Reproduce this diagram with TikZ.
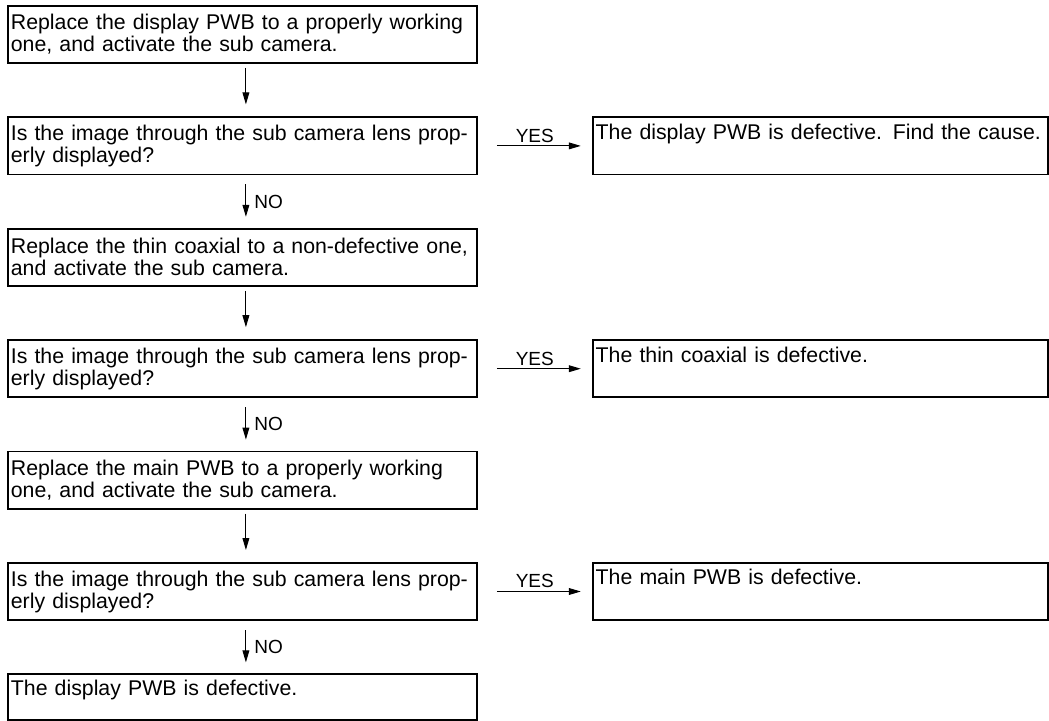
\documentclass[tikz,border=0pt]{standalone}
\usepackage{fontspec}
\setmainfont{Liberation Sans}
\usetikzlibrary{arrows.meta,positioning}
\tikzset{box/.style={draw,line width=0.9pt,align=left,inner xsep=1.5pt,inner ysep=0pt,
    font=\fontsize{10.65pt}{11pt}\selectfont},
  lbox/.style={box,text width=231.5pt,minimum height=28.6pt},
  rbox/.style={box,text width=224.5pt,minimum height=28.6pt},
  edge/.style={-{Triangle[length=6pt,width=3.4pt]},line width=0.5pt},
  down/.style={edge,shorten <=2pt,shorten >=6pt},
  nodown/.style={edge,shorten <=4.5pt,shorten >=5.5pt},
  yes/.style={edge,shorten <=9.5pt,shorten >=5.5pt},
  lbl/.style={font=\fontsize{9.5pt}{10pt}\selectfont,inner sep=1.5pt}}

\begin{document}
\begin{tikzpicture}[node distance=26.2pt]
    \useasboundingbox (0,0) rectangle (524.5pt,-360.5pt);
    \node[lbox,anchor=north west] (s1) at (3.5pt,-2.5pt) {Replace the display PWB to a properly working\\one, and activate the sub camera.};
    \node[lbox,below=of s1] (q1) {Is the image through the sub camera lens prop-\\erly displayed?};
    \node[lbox,below=of q1] (s2) {Replace the thin coaxial to a non-defective one,\\and activate the sub camera.};
    \node[lbox,below=of s2] (q2) {Is the image through the sub camera lens prop-\\erly displayed?};
    \node[lbox,below=of q2] (s3) {Replace the main PWB to a properly working\\one, and activate the sub camera.};
    \node[lbox,below=of s3] (q3) {Is the image through the sub camera lens prop-\\erly displayed?};
    \node[lbox,below=of q3,minimum height=23pt,text depth=10pt] (e4) {The display PWB is defective.};
    \node[rbox,right=57pt of q1] (e1) {The display PWB is defective. Find the cause.\\\strut};
    \node[rbox,right=57pt of q2] (e2) {The thin coaxial is defective.\\\strut};
    \node[rbox,right=57pt of q3] (e3) {The main PWB is defective.\\\strut};
    % down the left column
    \draw[down] ([xshift=1.75pt]s1.south)--([xshift=1.75pt]q1.north);
    \draw[nodown] ([xshift=1.75pt]q1.south)--node[lbl,right=2.5pt]{NO}([xshift=1.75pt]s2.north);
    \draw[down] ([xshift=1.75pt]s2.south)--([xshift=1.75pt]q2.north);
    \draw[nodown] ([xshift=1.75pt]q2.south)--node[lbl,right=2.5pt]{NO}([xshift=1.75pt]s3.north);
    \draw[down] ([xshift=1.75pt]s3.south)--([xshift=1.75pt]q3.north);
    \draw[nodown] ([xshift=1.75pt]q3.south)--node[lbl,right=2.5pt]{NO}([xshift=1.75pt]e4.north);
    % yes branches
    \draw[yes] (q1.east)--node[lbl,above]{YES}(e1.west);
    \draw[yes] (q2.east)--node[lbl,above]{YES}(e2.west);
    \draw[yes] (q3.east)--node[lbl,above]{YES}(e3.west);
  \end{tikzpicture}
\end{document}
